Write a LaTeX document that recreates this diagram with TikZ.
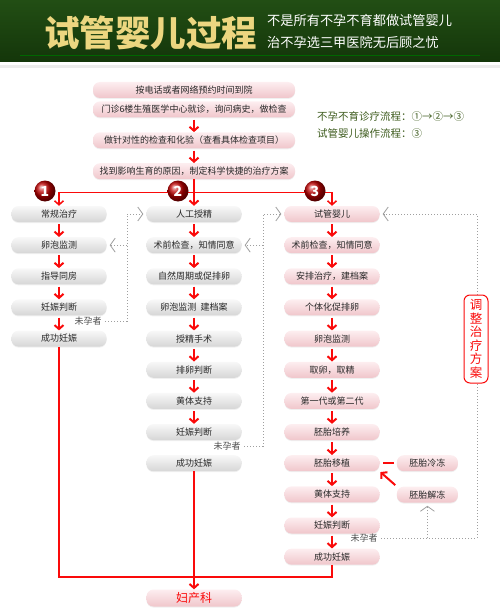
\documentclass[tikz,border=0pt]{standalone}
\usepackage{fontspec}
\newfontfamily\cjk{Noto Sans CJK SC}
\usetikzlibrary{arrows.meta, positioning, shadows}
\definecolor{hdrtop}{RGB}{34,78,20}
\definecolor{hdrbot}{RGB}{20,54,10}
\definecolor{gold}{RGB}{236,214,128}
\definecolor{pinktop}{RGB}{253,238,240}
\definecolor{pinkbot}{RGB}{240,198,203}
\definecolor{greytop}{RGB}{248,248,248}
\definecolor{greybot}{RGB}{214,214,214}
\definecolor{flowred}{RGB}{250,10,10}
\definecolor{legendgreen}{RGB}{62,92,30}
\definecolor{boxtext}{RGB}{40,40,40}

\begin{document}
\begin{tikzpicture}[x=1pt, y=1pt, font=\cjk, node distance=14.75pt]
    \tikzset{
      greybox/.style={rectangle, rounded corners=7pt, top color=greytop, bottom color=greybot,
        minimum width=95pt, minimum height=16pt, inner sep=0pt, text=boxtext,
        font=\cjk\fontsize{9}{9}\selectfont,
        drop shadow={opacity=0.12, shadow xshift=0pt, shadow yshift=-1pt}},
      pinkbox/.style={greybox, top color=pinktop, bottom color=pinkbot},
      topbox/.style={pinkbox, minimum width=202pt},
      arrow/.style={flowred, line width=2pt, -{Straight Barb[length=4pt, width=9pt]}},
      flowarrow/.style={arrow, shorten <=2pt},
      redline/.style={flowred, line width=1.5pt},
      feedback/.style={gray!75, dotted, line width=1pt},
      fbtip/.style={-{Straight Barb[length=5pt, width=14pt, line width=0.8pt]}, shorten >=3pt},
      numdot/.style={circle, ball color=red!75!black, minimum size=21pt, inner sep=0pt,
        text=white, font=\cjk\bfseries\fontsize{14}{14}\selectfont},
      untext/.style={text=gray!60!black, font=\cjk\fontsize{9}{9}\selectfont},
      subline/.style={anchor=base west, inner sep=0pt, text=white, font=\cjk\fontsize{13.2}{13.2}\selectfont},
      legendline/.style={anchor=west, inner sep=0pt, text=legendgreen, font=\cjk\fontsize{10.5}{10.5}\selectfont},
      sidenote/.style={draw=flowred, line width=1pt, rounded corners=6pt, fill=white,
        minimum width=24pt, minimum height=88pt, text width=13pt, align=center,
        text=flowred, font=\cjk\fontsize{12.5}{13.5}\selectfont}
    }
    \useasboundingbox (0,0) rectangle (500,-615);

    % header
    \fill[top color=hdrtop, bottom color=hdrbot] (0,0) rectangle (500,-62);
    \draw[green!40!black, line width=0.8pt] (20,-55) -- (480,-55);
    \draw[gray!15, line width=3pt] (0,-67) -- (500,-67);
    \node[anchor=west, inner sep=0pt, text=gold,
      font=\cjk\bfseries\fontsize{35.5}{35.5}\selectfont] (title) at (44,-33) {试管婴儿过程};
    \node[subline] (subtitle1) at (267,-26) {不是所有不孕不育都做试管婴儿};
    \node[subline] (subtitle2) at (267,-48) {治不孕选三甲医院无后顾之忧};

    % first visit
    \node[topbox] (visit) at (194,-90) {按电话或者网络预约时间到院};
    \node[topbox, below=3pt of visit] (clinic) {门诊6楼生殖医学中心就诊，询问病史，做检查};
    \node[topbox, below=14.5pt of clinic] (tests) {做针对性的检查和化验（查看具体检查项目）};
    \node[topbox, below=14.5pt of tests] (cause) {找到影响生育的原因，制定科学快捷的治疗方案};
    \draw[flowarrow] (clinic) -- (tests);
    \draw[flowarrow] (tests) -- (cause);

    \node[legendline] (legend1) at (317,-117) {不孕不育诊疗流程：①→②→③};
    \node[legendline] (legend2) at (317,-134) {试管婴儿操作流程：③};

    % column 1
    \node[greybox] (a1) at (59,-214) {常规治疗};
    \node[greybox, below=of a1] (a2) {卵泡监测};
    \node[greybox, below=of a2] (a3) {指导同房};
    \node[greybox, below=of a3] (a4) {妊娠判断};
    \node[greybox, below=of a4] (a5) {成功妊娠};

    % column 2
    \node[greybox] (b1) at (194,-214) {人工授精};
    \node[greybox, below=of b1] (b2) {术前检查，知情同意};
    \node[greybox, below=of b2] (b3) {自然周期或促排卵};
    \node[greybox, below=of b3] (b4) {卵泡监测\ \ 建档案};
    \node[greybox, below=of b4] (b5) {授精手术};
    \node[greybox, below=of b5] (b6) {排卵判断};
    \node[greybox, below=of b6] (b7) {黄体支持};
    \node[greybox, below=of b7] (b8) {妊娠判断};
    \node[greybox, below=of b8] (b9) {成功妊娠};

    % column 3
    \node[pinkbox] (c1) at (332,-214) {试管婴儿};
    \node[pinkbox, below=of c1] (c2) {术前检查，知情同意};
    \node[pinkbox, below=of c2] (c3) {安排治疗，建档案};
    \node[pinkbox, below=of c3] (c4) {个体化促排卵};
    \node[pinkbox, below=of c4] (c5) {卵泡监测};
    \node[pinkbox, below=of c5] (c6) {取卵，取精};
    \node[pinkbox, below=of c6] (c7) {第一代或第二代};
    \node[pinkbox, below=of c7] (c8) {胚胎培养};
    \node[pinkbox, below=of c8] (c9) {胚胎移植};
    \node[pinkbox, below=of c9] (c10) {黄体支持};
    \node[pinkbox, below=of c10] (c11) {妊娠判断};
    \node[pinkbox, below=of c11] (c12) {成功妊娠};
    \node[pinkbox, minimum width=61pt, right=17pt of c9] (freeze) {胚胎冷冻};
    \node[pinkbox, minimum width=61pt, below=15pt of freeze] (thaw) {胚胎解冻};

    \node[pinkbox, text=flowred, font=\cjk\fontsize{12}{12}\selectfont, minimum height=17pt]
      (obgyn) at (194,-598) {妇产科};

    % split into three ways
    \path (cause.south) -- (b1.north) coordinate[midway] (split);
    \draw[arrow] (cause.south) -- (b1.north);
    \draw[redline, -{Straight Barb[length=4pt, width=9pt]}] (split) -| (a1.north);
    \draw[redline, -{Straight Barb[length=4pt, width=9pt]}] (split) -| (c1.north);
    \node[numdot] (one) at (45,-191) {1};
    \node[numdot] (two) at (178,-191) {2};
    \node[numdot] (three) at (315,-191) {3};

    \draw[flowarrow] (a1) -- (a2);
    \draw[flowarrow] (a2) -- (a3);
    \draw[flowarrow] (a3) -- (a4);
    \draw[flowarrow] (a4) -- (a5);

    \draw[flowarrow] (b1) -- (b2);
    \draw[flowarrow] (b2) -- (b3);
    \draw[flowarrow] (b3) -- (b4);
    \draw[flowarrow] (b4) -- (b5);
    \draw[flowarrow] (b5) -- (b6);
    \draw[flowarrow] (b6) -- (b7);
    \draw[flowarrow] (b7) -- (b8);

    \draw[flowarrow] (c1) -- (c2);
    \draw[flowarrow] (c2) -- (c3);
    \draw[flowarrow] (c3) -- (c4);
    \draw[flowarrow] (c4) -- (c5);
    \draw[flowarrow] (c5) -- (c6);
    \draw[flowarrow] (c6) -- (c7);
    \draw[flowarrow] (c7) -- (c8);
    \draw[flowarrow] (c8) -- (c9);
    \draw[flowarrow] (c9) -- (c10);
    \draw[flowarrow] (c10) -- (c11);
    \draw[flowarrow] (c11) -- (c12);
    \draw[flowred, line width=2.5pt, shorten <=3pt, shorten >=3pt] (freeze.west) -- (c9.east);
    \draw[flowarrow, shorten >=1pt] (thaw.north west) -- (c9.south east);

    % not pregnant: try the next way
    \node[untext] (miss1) at (88,-321) {未孕者};
    \coordinate (fb1) at (127,-214);
    \draw[feedback, fbtip] (miss1.east) -| (fb1) -- (b1.west);
    \draw[feedback, fbtip] (fb1 |- a2) -- (a2.east);

    \node[untext] (miss2) at (227,-446) {未孕者};
    \coordinate (fb2) at (263,-214);
    \draw[feedback, fbtip] (miss2.east) -| (fb2) -- (c1.west);
    \draw[feedback, fbtip] (fb2 |- b2) -- (b2.east);

    \node[untext] (miss3) at (364,-538) {未孕者};
    \coordinate (fb3) at (477,-214);
    \draw[feedback, fbtip] (miss3.east) -| (fb3) -- (c1.east);
    \draw[feedback, fbtip] (thaw |- miss3) -- (thaw.south);
    \node[sidenote] (adjust) at (476,-339) {调\\整\\治\\疗\\方\\案};

    % success goes to obstetrics
    \coordinate (merge) at (194,-577);
    \draw[redline] (a5.south) |- (merge);
    \draw[redline] (c12.south) |- (merge);
    \draw[arrow] (b9.south) -- (obgyn.north);
\end{tikzpicture}
\end{document}
